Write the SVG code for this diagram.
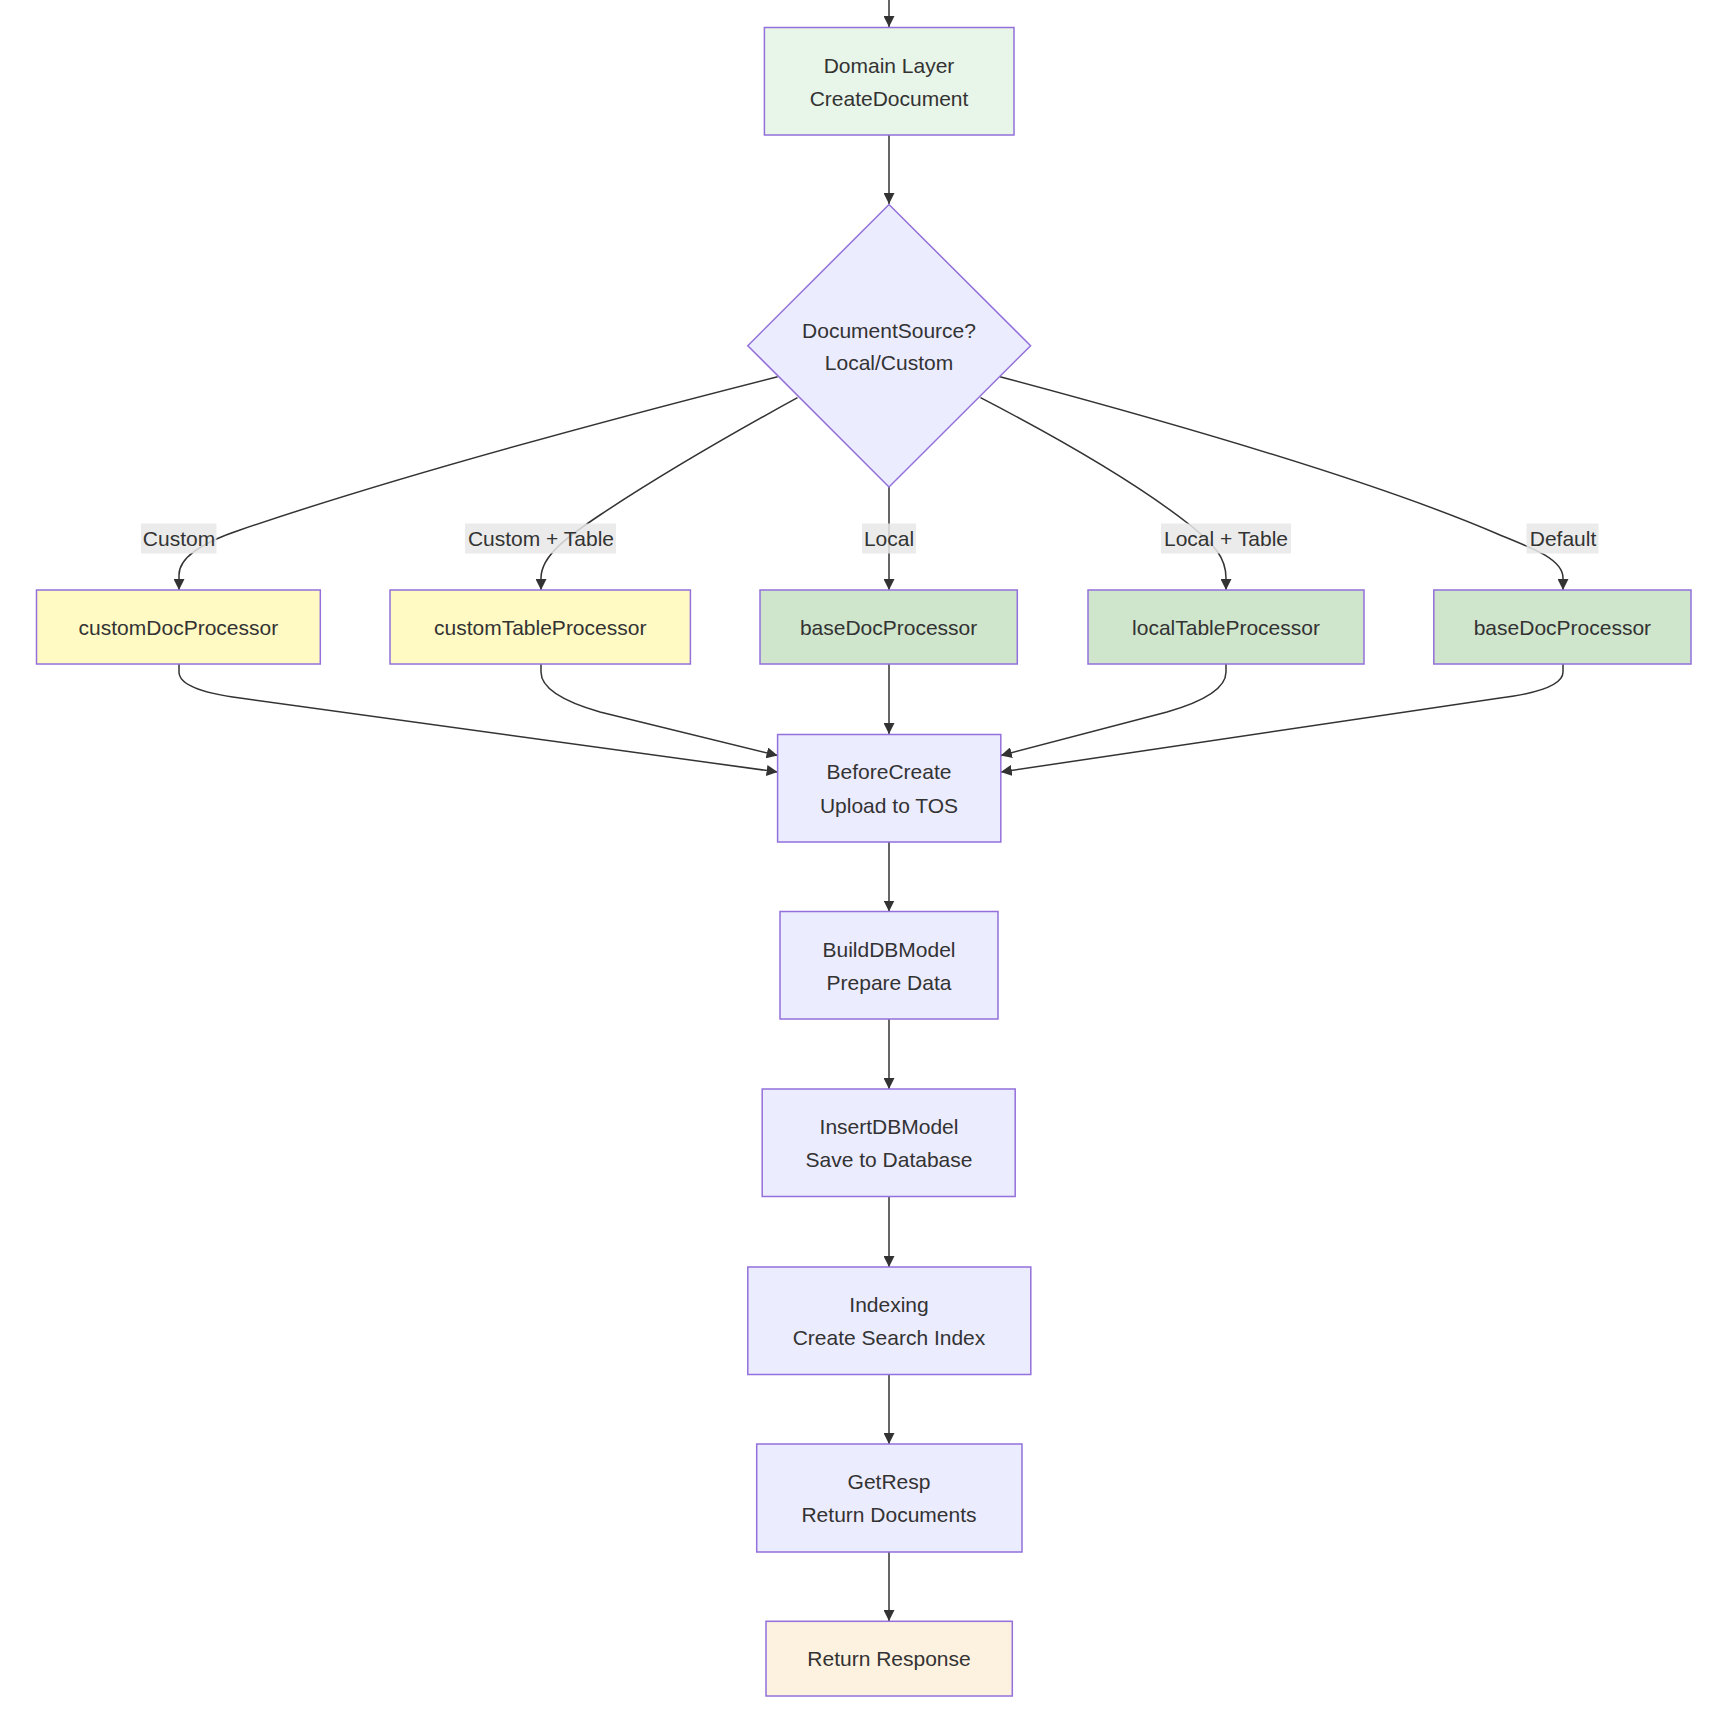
<svg xmlns="http://www.w3.org/2000/svg" width="1732" height="1732" viewBox="0 0 1732 1732">
<defs>
<marker id="arr" viewBox="0 0 10 10" refX="10" refY="5" markerWidth="11" markerHeight="11" markerUnits="userSpaceOnUse" orient="auto">
<path d="M0,0 L10,5 L0,10 z" fill="#333"/>
</marker>
</defs>
<style>
.n{fill:#ECECFF;stroke:#9370DB;stroke-width:1.5}
.dom{fill:#e8f5e9}
.cus{fill:#fff9c4}
.loc{fill:#cfe5cc}
.ret{fill:#fdf1e0}
.t{font-family:"Liberation Sans",Arial,sans-serif;font-size:21px;fill:#333;text-anchor:middle;dominant-baseline:central}
.e{fill:none;stroke:#333;stroke-width:1.5;marker-end:url(#arr)}
.lb{fill:#e8e8e8;opacity:0.85}
</style>
<rect width="1732" height="1732" fill="#fff"/>
<g id="edges">
<path class="e" d="M889,0 L889,27"/>
<path class="e" d="M889,135 L889,204"/>
<path class="e" d="M777.6,376.7 Q430,465 240,530 C210,540 179,555 179,575 L179,590"/>
<path class="e" d="M797.5,397.7 Q680,462 600,515 C570,535 541,555 541,578 L541,590"/>
<path class="e" d="M889,487 L889,590"/>
<path class="e" d="M980.5,397.7 Q1120,470 1190,525 C1215,545 1226,558 1226,578 L1226,590"/>
<path class="e" d="M1000,376.7 Q1350,470 1500,535 C1535,549 1563,560 1563,578 L1563,590"/>
<path class="e" d="M179,664 L179,672 Q179,690 240,698 L777.6,772"/>
<path class="e" d="M541,664 L541,672 Q541,695 600,712 L777.6,755.5"/>
<path class="e" d="M889,664 L889,734"/>
<path class="e" d="M1226,664 L1226,672 Q1226,695 1167,712 L1000.8,755.5"/>
<path class="e" d="M1563,664 L1563,672 Q1563,690 1500,698 L1000.8,772"/>
<path class="e" d="M889,842 L889,911.5"/>
<path class="e" d="M889,1019 L889,1089"/>
<path class="e" d="M889,1196 L889,1267"/>
<path class="e" d="M889,1375 L889,1444"/>
<path class="e" d="M889,1552 L889,1621"/>
</g>
<g id="edge-labels">
<rect class="lb" x="141" y="523.5" width="75.5" height="30"/>
<text class="t" x="179" y="538.5">Custom</text>
<rect class="lb" x="465" y="523.5" width="151" height="30"/>
<text class="t" x="541" y="538.5">Custom + Table</text>
<rect class="lb" x="862" y="523.5" width="54" height="30"/>
<text class="t" x="889" y="538.5">Local</text>
<rect class="lb" x="1161" y="523.5" width="130" height="30"/>
<text class="t" x="1226" y="538.5">Local + Table</text>
<rect class="lb" x="1526.5" y="523.5" width="72" height="30"/>
<text class="t" x="1563" y="538.5">Default</text>
</g>
<g id="domain">
<rect class="n dom" x="764.4" y="27.5" width="249.6" height="107.5"/>
<text class="t" x="889" y="65">Domain Layer</text>
<text class="t" x="889" y="98">CreateDocument</text>
</g>
<g id="decision">
<polygon class="n" points="889,204.5 1030.6,345.7 889,487 747.8,345.7"/>
<text class="t" x="889" y="330">DocumentSource?</text>
<text class="t" x="889" y="362.5">Local/Custom</text>
</g>
<g id="customDoc">
<rect class="n cus" x="36.5" y="590" width="283.8" height="74"/>
<text class="t" x="178.4" y="627">customDocProcessor</text>
</g>
<g id="customTable">
<rect class="n cus" x="390" y="590" width="300.4" height="74"/>
<text class="t" x="540.2" y="627">customTableProcessor</text>
</g>
<g id="baseDoc1">
<rect class="n loc" x="760" y="590" width="257.3" height="74"/>
<text class="t" x="888.6" y="627">baseDocProcessor</text>
</g>
<g id="localTable">
<rect class="n loc" x="1088" y="590" width="276" height="74"/>
<text class="t" x="1226" y="627">localTableProcessor</text>
</g>
<g id="baseDoc2">
<rect class="n loc" x="1433.8" y="590" width="257.2" height="74"/>
<text class="t" x="1562.4" y="627">baseDocProcessor</text>
</g>
<g id="beforeCreate">
<rect class="n" x="777.6" y="734.5" width="223.2" height="107.5"/>
<text class="t" x="889" y="771.5">BeforeCreate</text>
<text class="t" x="889" y="805">Upload to TOS</text>
</g>
<g id="buildDB">
<rect class="n" x="780" y="911.5" width="218" height="107.5"/>
<text class="t" x="889" y="949">BuildDBModel</text>
<text class="t" x="889" y="982">Prepare Data</text>
</g>
<g id="insertDB">
<rect class="n" x="762.2" y="1089" width="253" height="107.5"/>
<text class="t" x="889" y="1126.5">InsertDBModel</text>
<text class="t" x="889" y="1159.5">Save to Database</text>
</g>
<g id="indexing">
<rect class="n" x="747.8" y="1267" width="283" height="107.5"/>
<text class="t" x="889" y="1304.5">Indexing</text>
<text class="t" x="889" y="1337.5">Create Search Index</text>
</g>
<g id="getResp">
<rect class="n" x="756.7" y="1444" width="265.3" height="108"/>
<text class="t" x="889" y="1481.5">GetResp</text>
<text class="t" x="889" y="1514.5">Return Documents</text>
</g>
<g id="returnResp">
<rect class="n ret" x="766" y="1621.3" width="246.3" height="74.7"/>
<text class="t" x="889" y="1658.5">Return Response</text>
</g>
</svg>
